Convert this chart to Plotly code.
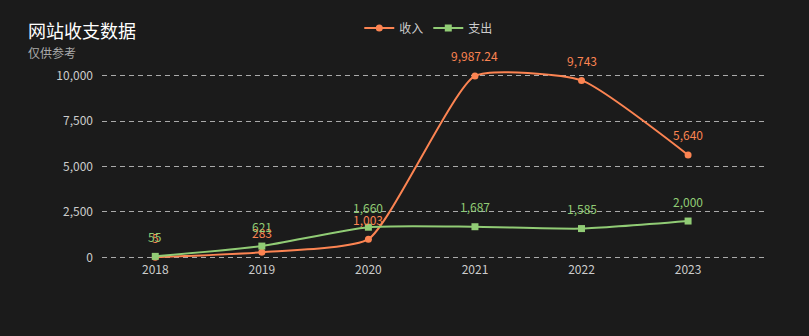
import plotly.graph_objects as go

years = ["2018", "2019", "2020", "2021", "2022", "2023"]
income = [5, 283, 1003, 9987.24, 9743, 5640]
expense = [55, 621, 1660, 1687, 1585, 2000]
y_ticks = [0, 2500, 5000, 7500, 10000]

INCOME_COLOR = "#fc8452"
EXPENSE_COLOR = "#91cc75"
BG = "#1b1b1b"
FONT = "Noto Sans CJK SC, Microsoft YaHei, sans-serif"

W, H = 809, 336
# value axis: 0 sits at y=257px, 10000 at y=76px; pad the range so
# edge gridlines stay visible and the curves are not clipped
Y_LO, Y_HI = -200, 10700
K = (257 - 76) / 10000
ML, MR = 102, 41
MT = 76 - (Y_HI - 10000) * K
MB = (H - 257) - (0 - Y_LO) * K
PW, PH = W - ML - MR, H - MT - MB


def fmt(v):
    return f"{v:,}"


def px_to_paper(px, py):
    return (px - ML) / PW, (H - MB - py) / PH


fig = go.Figure()
fig.add_trace(go.Scatter(
    x=years, y=income, name="收入", mode="lines+markers",
    line=dict(color=INCOME_COLOR, width=2, shape="spline", smoothing=0.5),
    marker=dict(symbol="circle", size=7, color=INCOME_COLOR),
    cliponaxis=False,
))
fig.add_trace(go.Scatter(
    x=years, y=expense, name="支出", mode="lines+markers",
    line=dict(color=EXPENSE_COLOR, width=2, shape="spline", smoothing=0.6),
    marker=dict(symbol="square", size=7, color=EXPENSE_COLOR),
    cliponaxis=False,
))

# value labels above each point
annotations = []
for series, color in ((income, INCOME_COLOR), (expense, EXPENSE_COLOR)):
    for i, v in enumerate(series):
        annotations.append(dict(
            x=i, y=v, xref="x", yref="y", text=fmt(v), showarrow=False,
            yshift=20, font=dict(color=color, size=12, family=FONT),
        ))

# title and subtitle
tx, ty = px_to_paper(26, 30)
annotations.append(dict(
    text="网站收支数据", xref="paper", yref="paper", x=tx, y=ty,
    xanchor="left", yanchor="middle", showarrow=False,
    font=dict(size=18, color="#ffffff", family=FONT),
))
sx, sy = px_to_paper(26, 53)
annotations.append(dict(
    text="仅供参考", xref="paper", yref="paper", x=sx, y=sy,
    xanchor="left", yanchor="middle", showarrow=False,
    font=dict(size=12, color="#aaaaaa", family=FONT),
))

fig.update_layout(
    width=W, height=H,
    paper_bgcolor=BG, plot_bgcolor=BG,
    margin=dict(l=ML, r=MR, t=MT, b=MB),
    font=dict(family=FONT, color="#cccccc", size=12),
    legend=dict(
        orientation="h", x=0.53, xanchor="center", xref="container",
        y=1 - 28 / H, yref="container", yanchor="middle",
        font=dict(size=12, color="#cccccc"),
        bgcolor="rgba(0,0,0,0)", itemwidth=30,
    ),
    showlegend=True,
    xaxis=dict(
        type="category", categoryorder="array", categoryarray=years,
        range=[-0.5, 5.75], showgrid=False, zeroline=False, showline=False,
        ticks="", tickfont=dict(size=12, color="#cccccc"),
    ),
    yaxis=dict(
        range=[Y_LO, Y_HI], tickvals=y_ticks,
        ticktext=[fmt(v) for v in y_ticks],
        showgrid=True, gridcolor="#aaaaaa", griddash="5px,4px", gridwidth=1,
        zeroline=False, showline=False, ticks="", ticklabelstandoff=8,
        tickfont=dict(size=12, color="#cccccc"),
    ),
    annotations=annotations,
)

fig.write_html("out.html")
